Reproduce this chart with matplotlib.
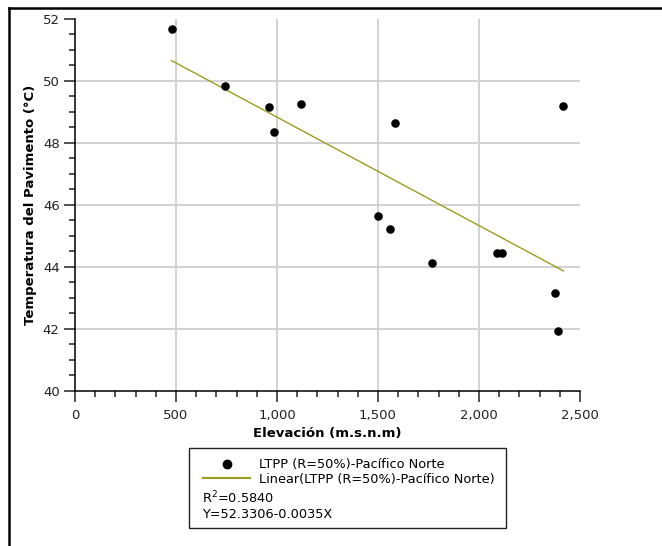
import numpy as np
import matplotlib
matplotlib.use("Agg")
import matplotlib.pyplot as plt
from matplotlib.lines import Line2D
from matplotlib.patches import Rectangle
from matplotlib.ticker import MultipleLocator, FuncFormatter

# elevation (m.s.n.m) and pavement temperature (°C)
elevacion = [478, 743, 959, 983, 1121, 1502, 1559, 1583, 1766, 2089, 2114, 2377, 2390, 2418]
temperatura = [51.67, 49.83, 49.15, 48.36, 49.27, 45.64, 45.23, 48.65, 44.13, 44.44, 44.44, 43.16, 41.93, 49.18]

serie = "LTPP (R=50%)-Pacífico Norte"
intercepto = 52.3306
pendiente = -0.0035
r2 = 0.5840

plt.rcParams["font.family"] = ["DejaVu Sans"]

fig = plt.figure(figsize=(6.62, 5.46), dpi=100)
ax = fig.add_axes([75 / 662, 1 - 390.7 / 546, 505 / 662, (390.7 - 19) / 546])

ax.scatter(elevacion, temperatura, s=38, color="black", zorder=3, linewidths=0)
xl = np.array([min(elevacion), max(elevacion)])
ax.plot(xl, intercepto + pendiente * xl, color="#9c9c22", lw=1.0, zorder=2)

ax.set_xlim(0, 2500)
ax.set_ylim(40, 52)
ax.xaxis.set_major_locator(MultipleLocator(500))
ax.xaxis.set_minor_locator(MultipleLocator(100))
ax.yaxis.set_major_locator(MultipleLocator(2))
ax.yaxis.set_minor_locator(MultipleLocator(0.5))
ax.xaxis.set_major_formatter(FuncFormatter(lambda v, p: f"{v:,.0f}"))

for s in ["top", "right"]:
    ax.spines[s].set_visible(False)
for s in ["left", "bottom"]:
    ax.spines[s].set_linewidth(1.1)

ax.tick_params(which="major", length=8, width=1.1, labelsize=9.5, colors="#222222")
ax.tick_params(which="minor", length=4, width=1.1, colors="#222222")
ax.tick_params(axis="x", which="major", pad=5)
ax.tick_params(axis="y", which="major", pad=3)

# grid lines, only inside the plot
for v in range(500, 2500, 500):
    ax.axvline(v, color="#cfcfcf", lw=1.3, zorder=0)
for v in range(42, 52, 2):
    ax.axhline(v, color="#cfcfcf", lw=1.3, zorder=0)

ax.set_xlabel("Elevación (m.s.n.m)", fontsize=9.5, fontweight="bold", labelpad=4)
ax.set_ylabel("Temperatura del Pavimento (°C)", fontsize=9.5, fontweight="bold", labelpad=4)

# legend box
fig.patches.append(Rectangle((189.5 / 662, 1 - 528 / 546), (506 - 189.5) / 662, (528 - 448) / 546,
                             transform=fig.transFigure, fill=False, ec="#222222", lw=1.0))
handles = [Line2D([], [], ls="none", marker="o", color="black", markersize=6),
           Line2D([], [], color="#9c9c22", lw=1.5)]
fig.legend(handles, [serie, f"Linear({serie})"], loc="upper left",
           bbox_to_anchor=(197 / 662, 1 - 452 / 546), frameon=False, fontsize=9.3,
           handlelength=3.6, handletextpad=0.7, labelspacing=0.1, borderpad=0)
fig.text(202 / 662, 1 - 498 / 546, f"R$^2$={r2:.4f}", fontsize=9.3, va="center")
fig.text(202 / 662, 1 - 514 / 546, f"Y={intercepto:.4f}-{abs(pendiente):.4f}X", fontsize=9.3, va="center")

# outer frame
fig.add_artist(Line2D([9 / 662, 9 / 662], [0, 1 - 7.5 / 546], transform=fig.transFigure, color="black", lw=1.8))
fig.add_artist(Line2D([9 / 662, 1], [1 - 7.5 / 546, 1 - 7.5 / 546], transform=fig.transFigure, color="black", lw=1.8))

fig.savefig("out.png", dpi=100)
